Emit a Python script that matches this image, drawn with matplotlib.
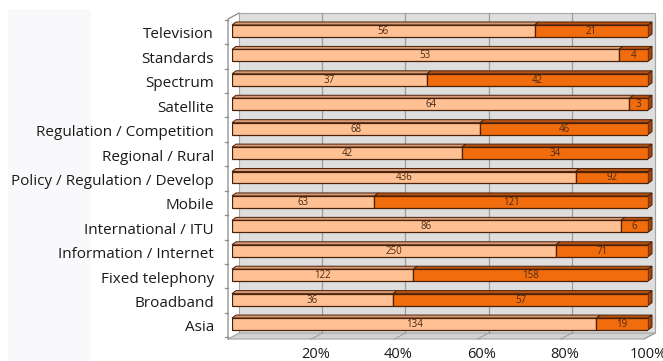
import numpy as np
import matplotlib.pyplot as plt
from matplotlib.patches import Polygon, Rectangle

plt.rcParams['font.family'] = ['Open Sans', 'DejaVu Sans']

# Topic counts, first and second group per category (drawn top to bottom)
categories = ["Television", "Standards", "Spectrum", "Satellite",
              "Regulation / Competition", "Regional / Rural",
              "Policy / Regulation / Develop", "Mobile", "International / ITU",
              "Information / Internet", "Fixed telephony", "Broadband", "Asia"]
group_a = [56, 53, 37, 64, 68, 42, 436, 63, 86, 250, 122, 36, 134]
group_b = [21, 4, 42, 3, 46, 34, 92, 121, 6, 71, 158, 57, 19]
tick_values = [20, 40, 60, 80, 100]
tick_labels = ["20%", "40%", "60%", "80%", "100%"]

a = np.array(group_a, dtype=float)
b = np.array(group_b, dtype=float)
share_a = a / (a + b) * 100

n = len(categories)
rows = np.arange(n)[::-1]          # first category at the top

W, H = 663, 361
fig = plt.figure(figsize=(W / 100, H / 100), dpi=100)
# faint panel behind the labels
fig.add_artist(Rectangle((8 / W, 0), 82 / W, (H - 10) / H,
                         transform=fig.transFigure, color="#f9f9fb", zorder=-5))

# axes placed in pixels: x 0..100 -> 232..648, rows 24.4 px apart
ax_left, ax_w = 232, 416
ax_top, ax_h = 19, 317
ylo, yhi = -0.49, 12.49
ax = fig.add_axes([ax_left / W, (H - ax_top - ax_h) / H, ax_w / W, ax_h / H])
ax.set_xlim(0, 100)
ax.set_ylim(ylo, yhi)
ax.patch.set_alpha(0)

sx = 100 / ax_w
sy = (yhi - ylo) / ax_h


def shift(x, y, d):
    return (x + d[0] * sx, y + d[1] * sy)


FRONT = (-4, -1)
BACK = (7, 5)
DEPTH = (4, 3)
y0, y1 = -0.574, 12.53

wall_edge = "#a6a6a6"

# back wall and gridlines
wall = [shift(0, y0, BACK), shift(100, y0, BACK), shift(100, y1, BACK), shift(0, y1, BACK)]
ax.add_patch(Polygon(wall, closed=True, facecolor="#dedede", edgecolor=wall_edge,
                     lw=0.8, clip_on=False, zorder=1))
for t in tick_values[:-1]:
    p0, p1 = shift(t, y0, BACK), shift(t, y1, BACK)
    ax.plot([p0[0], p1[0]], [p0[1], p1[1]], color="#9c9c9c", lw=0.9,
            clip_on=False, zorder=1.5)

# floor
floor = [shift(0, y0, FRONT), shift(100, y0, FRONT), shift(100, y0, BACK), shift(0, y0, BACK)]
ax.add_patch(Polygon(floor, closed=True, facecolor="#d2d2d2", edgecolor=wall_edge,
                     lw=0.8, clip_on=False, zorder=1.2))
for t in tick_values:
    p0, p1 = shift(t, y0, FRONT), shift(t, y0, BACK)
    ax.plot([p0[0], p1[0]], [p0[1], p1[1]], color="#a0a0a0", lw=0.8,
            clip_on=False, zorder=1.3)

# left wall outline with ticks at row boundaries
p0, p1, p2 = shift(0, y0, FRONT), shift(0, y1, FRONT), shift(0, y1, BACK)
ax.plot([p0[0], p1[0], p2[0]], [p0[1], p1[1], p2[1]], color="#8a8a8a", lw=0.9,
        clip_on=False, zorder=2)
for yb in np.arange(n + 1) - 0.5:
    q = shift(0, yb, FRONT)
    ax.plot([q[0] - 3 * sx, q[0]], [q[1], q[1]], color="#8a8a8a", lw=0.9,
            clip_on=False, zorder=2)

# 3D bars
bh = 0.49
edge = "#4a220a"
light, light_top = "#ffc194", "#d99a76"
dark, dark_top, dark_side = "#f06c0c", "#b9520f", "#a3450a"
for r, pa, va, vb in zip(rows, share_a, group_a, group_b):
    top = r + bh / 2
    bot = r - bh / 2
    # top faces
    for x0, x1, c in [(0, pa, light_top), (pa, 100, dark_top)]:
        face = [(x0, top), (x1, top), shift(x1, top, DEPTH), shift(x0, top, DEPTH)]
        ax.add_patch(Polygon(face, closed=True, facecolor=c, edgecolor=edge,
                             lw=0.7, clip_on=False, zorder=3))
    side = [(100, bot), shift(100, bot, DEPTH), shift(100, top, DEPTH), (100, top)]
    ax.add_patch(Polygon(side, closed=True, facecolor=dark_side, edgecolor=edge,
                         lw=0.7, clip_on=False, zorder=3))
    # front faces
    ax.add_patch(Rectangle((0, bot), pa, bh, facecolor=light, edgecolor=edge,
                           lw=0.9, zorder=4))
    ax.add_patch(Rectangle((pa, bot), 100 - pa, bh, facecolor=dark, edgecolor=edge,
                           lw=0.9, zorder=4))
    ax.text(pa / 2, r - 0.02, str(va), ha="center", va="center",
            fontsize=7, color="#4a2a14", zorder=5)
    ax.text((pa + 100) / 2, r - 0.02, str(vb), ha="center", va="center",
            fontsize=7, color="#4a2a14", zorder=5)

ax.set_yticks(rows - 0.08)
ax.set_yticklabels(categories, fontsize=11, color="#1a1a1a")
ax.set_xticks(tick_values)
ax.set_xticklabels(tick_labels, fontsize=10.5, color="#1a1a1a")
ax.tick_params(axis="y", length=0, pad=13)
ax.tick_params(axis="x", length=0, pad=8)
for s in ax.spines.values():
    s.set_visible(False)

fig.savefig("out.png", dpi=100)
